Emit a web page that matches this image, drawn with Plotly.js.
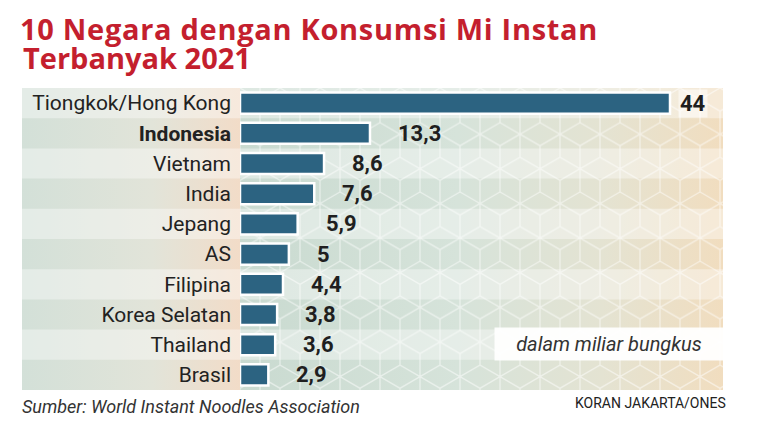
<!DOCTYPE html>
<html>
<head>
<meta charset="utf-8">
<script src="https://cdn.plot.ly/plotly-3.0.1.min.js"></script>
<style>
  html, body { margin: 0; padding: 0; background: #fff; }
  #chart { width: 771px; height: 441px; }
  #chart .gtitle { letter-spacing: 0.7px; }
</style>
</head>
<body>
<div id="chart"></div>
<script>
const countries = ['Tiongkok/Hong Kong', 'Indonesia', 'Vietnam', 'India', 'Jepang', 'AS', 'Filipina', 'Korea Selatan', 'Thailand', 'Brasil'];
const consumption = [44, 13.3, 8.6, 7.6, 5.9, 5, 4.4, 3.8, 3.6, 2.9];
const highlight = 'Indonesia';
const titleLine1 = '10 Negara dengan Konsumsi Mi Instan';
const titleLine2 = 'Terbanyak 2021';
const unitNote = 'dalam miliar bungkus';
const sourceNote = 'Sumber: World Instant Noodles Association';
const credit = 'KORAN JAKARTA/ONES';

const W = 771, H = 441;
const M = { l: 240, r: 48, t: 88, b: 51 };
const plotW = W - M.l - M.r;
const plotH = H - M.t - M.b;
const bandLeft = 22;
const pxPerUnit = 430 / 44;

// pixel -> paper coordinates
const px = x => (x - M.l) / plotW;
const py = y => 1 - (y - M.t) / plotH;

function hexPattern() {
  const w = 40, s = w / Math.sqrt(3), h = 3 * s;
  const hex = (cx, cy) =>
    `M${cx},${cy - s}L${cx + w / 2},${cy - s / 2}L${cx + w / 2},${cy + s / 2}L${cx},${cy + s}` +
    `L${cx - w / 2},${cy + s / 2}L${cx - w / 2},${cy - s / 2}Z` +
    `M${cx},${cy}L${cx},${cy - s}M${cx},${cy}L${cx + w / 2},${cy + s / 2}M${cx},${cy}L${cx - w / 2},${cy + s / 2}`;
  const d = [[0, 0], [w, 0], [0, h], [w, h], [w / 2, 1.5 * s]].map(c => hex(c[0], c[1])).join('');
  return `<pattern id="p" width="${w}" height="${h}" patternUnits="userSpaceOnUse">` +
    `<path d="${d}" fill="none" stroke="#ffffff" stroke-opacity="0.5" stroke-width="1.3"/></pattern>`;
}

function svgUri(w, h, stops, pattern) {
  const st = stops.map(s => `<stop offset="${s[0]}" stop-color="${s[1]}"/>`).join('');
  const svg = `<svg xmlns="http://www.w3.org/2000/svg" width="${w}" height="${h}" viewBox="0 0 ${w} ${h}">` +
    `<defs><linearGradient id="g" x1="0" y1="0" x2="1" y2="0">${st}</linearGradient>${pattern ? hexPattern() : ''}</defs>` +
    `<rect width="${w}" height="${h}" fill="url(#g)"/>` +
    (pattern ? `<rect width="${w}" height="${h}" fill="url(#p)"/>` : '') + `</svg>`;
  return 'data:image/svg+xml;base64,' + btoa(svg);
}

const images = [
  {
    source: svgUri(M.l - bandLeft, plotH, [[0, '#d3e0d8'], [0.6, '#e2e4d9'], [1, '#f2dcc8']], false),
    xref: 'paper', yref: 'paper', x: px(bandLeft), y: 1,
    sizex: (M.l - bandLeft) / plotW, sizey: 1, xanchor: 'left', yanchor: 'top',
    sizing: 'stretch', layer: 'below'
  },
  {
    source: svgUri(plotW, plotH, [[0, '#c9dad0'], [0.45, '#d6e3da'], [0.75, '#e4e3d2'], [1, '#f1ddbf']], true),
    xref: 'paper', yref: 'paper', x: 0, y: 1,
    sizex: 1, sizey: 1, xanchor: 'left', yanchor: 'top',
    sizing: 'stretch', layer: 'below'
  }
];

// lighter alternate rows
const shapes = countries.map((c, i) => i % 2 === 0 ? {
  type: 'rect', xref: 'paper', yref: 'y', layer: 'below',
  x0: px(bandLeft), x1: 1, y0: i - 0.5, y1: i + 0.5,
  fillcolor: 'rgba(255,255,255,0.38)', line: { width: 0 }
} : null).filter(s => s);

const maxVal = Math.max(...consumption);
const valueLabels = countries.map((c, i) => ({
  x: consumption[i], y: c, xref: 'x', yref: 'y',
  text: String(consumption[i]).replace('.', ','),
  showarrow: false, xanchor: 'left', yanchor: 'middle',
  xshift: consumption[i] === maxVal ? 8 : 26,
  font: { family: 'Roboto, sans-serif', size: 22, color: '#1f1f1f', weight: 700 },
  bgcolor: consumption[i] === maxVal ? 'rgba(255,255,255,0.5)' : 'rgba(0,0,0,0)'
}));

const trace = {
  type: 'bar',
  orientation: 'h',
  x: consumption,
  y: countries,
  width: 0.7,
  marker: { color: '#2c6381', line: { color: '#ffffff', width: 2.5 } },
  hoverinfo: 'x+y'
};

const titleFont = { family: 'Open Sans, sans-serif', size: 29, color: '#c41f2e', weight: 700 };

const layout = {
  width: W, height: H,
  margin: M,
  paper_bgcolor: '#ffffff',
  plot_bgcolor: 'rgba(0,0,0,0)',
  showlegend: false,
  title: {
    text: titleLine1,
    xref: 'container', yref: 'container',
    x: 20 / W, xanchor: 'left',
    y: 1 - 20 / H, yanchor: 'top',
    font: titleFont
  },
  xaxis: {
    range: [0, plotW / pxPerUnit],
    showgrid: false, zeroline: false, showticklabels: false, fixedrange: true
  },
  yaxis: {
    type: 'category',
    autorange: 'reversed',
    tickmode: 'array',
    tickvals: countries,
    ticktext: countries.map(c => c === highlight ? `<b>${c}</b>` : c),
    ticks: '', ticklabelstandoff: 8,
    showgrid: false, zeroline: false, fixedrange: true,
    tickfont: { family: 'Roboto, sans-serif', size: 21, color: '#222' }
  },
  images: images,
  shapes: shapes,
  annotations: valueLabels.concat([
    {
      xref: 'paper', yref: 'paper', x: px(21), y: py(57),
      xanchor: 'left', yanchor: 'middle',
      text: titleLine2, showarrow: false,
      font: titleFont
    },
    {
      xref: 'paper', yref: 'paper', x: px(609), y: py(344),
      xanchor: 'center', yanchor: 'middle',
      text: `<i>${unitNote}</i>`, showarrow: false,
      width: 226, height: 30, bgcolor: 'rgba(255,255,255,0.92)',
      font: { family: 'Roboto, sans-serif', size: 20, color: '#333' }
    },
    {
      xref: 'paper', yref: 'paper', x: px(20), y: py(406),
      xanchor: 'left', yanchor: 'middle',
      text: `<i>${sourceNote}</i>`, showarrow: false,
      font: { family: 'Roboto, sans-serif', size: 18, color: '#333' }
    },
    {
      xref: 'paper', yref: 'paper', x: px(728), y: py(403),
      xanchor: 'right', yanchor: 'middle',
      text: credit, showarrow: false,
      font: { family: 'Roboto, sans-serif', size: 14, color: '#222' }
    }
  ])
};

Plotly.newPlot('chart', [trace], layout, { displayModeBar: false, staticPlot: true });
</script>
</body>
</html>
